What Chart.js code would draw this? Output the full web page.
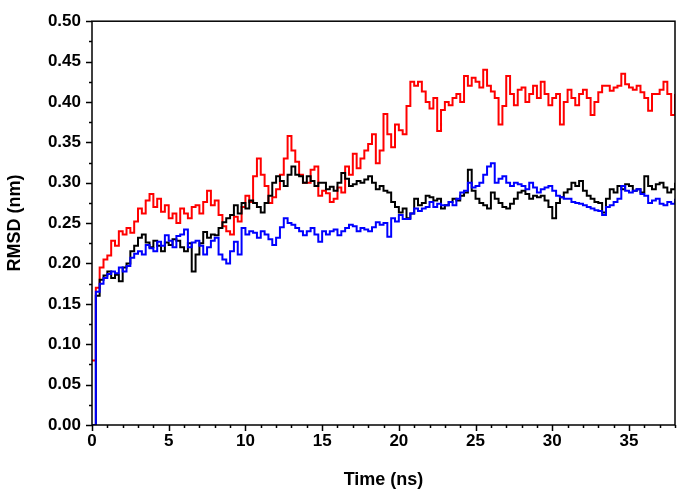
<!DOCTYPE html>
<html>
<head>
<meta charset="utf-8">
<script src="https://cdn.jsdelivr.net/npm/chart.js@4.4.1/dist/chart.umd.min.js"></script>
<style>
  body { margin: 0; background: #fff; }
</style>
</head>
<body>
<canvas id="rmsdChart" width="683" height="495"></canvas>
<script>
const timeStep = 0.25;

const redRmsd = [
  0.08, 0.17, 0.195, 0.205,
  0.21, 0.228, 0.222, 0.24,
  0.236, 0.244, 0.238, 0.252,
  0.268, 0.262, 0.278, 0.286,
  0.27, 0.28, 0.264, 0.272,
  0.256, 0.262, 0.25, 0.268,
  0.262, 0.256, 0.27, 0.272,
  0.262, 0.276, 0.29, 0.272,
  0.278, 0.26, 0.246, 0.24,
  0.236, 0.258, 0.252, 0.27,
  0.284, 0.276, 0.308, 0.33,
  0.31, 0.296, 0.275, 0.282,
  0.292, 0.31, 0.33, 0.358,
  0.34, 0.326, 0.31, 0.3,
  0.3, 0.316, 0.32, 0.284,
  0.29, 0.287, 0.276, 0.28,
  0.294, 0.288, 0.32, 0.31,
  0.336, 0.318, 0.33, 0.34,
  0.348, 0.36, 0.324, 0.34,
  0.385, 0.36, 0.344, 0.372,
  0.365, 0.36, 0.395, 0.425,
  0.42, 0.425, 0.413, 0.4,
  0.392, 0.405, 0.364, 0.39,
  0.4, 0.396, 0.405, 0.41,
  0.4, 0.432, 0.42, 0.43,
  0.425, 0.418, 0.44, 0.42,
  0.413, 0.405, 0.372, 0.395,
  0.432, 0.41, 0.396, 0.415,
  0.418, 0.4, 0.41, 0.42,
  0.405, 0.425, 0.41, 0.396,
  0.405, 0.41, 0.372, 0.4,
  0.415, 0.405, 0.396, 0.41,
  0.415, 0.405, 0.384, 0.4,
  0.412, 0.42, 0.42, 0.414,
  0.418, 0.42, 0.435, 0.422,
  0.418, 0.415, 0.42, 0.412,
  0.405, 0.389, 0.41, 0.41,
  0.415, 0.425, 0.41, 0.384,
  0.41
];

const blackRmsd = [
  0.0, 0.16, 0.18, 0.185,
  0.19, 0.182, 0.186, 0.178,
  0.195, 0.2, 0.215, 0.222,
  0.232, 0.236, 0.226, 0.22,
  0.228, 0.222, 0.215, 0.226,
  0.223, 0.23, 0.228, 0.22,
  0.215, 0.225, 0.19, 0.211,
  0.225, 0.239, 0.232, 0.236,
  0.235, 0.244, 0.251, 0.256,
  0.26, 0.272, 0.262, 0.275,
  0.268, 0.278, 0.275, 0.27,
  0.263, 0.275, 0.284, 0.3,
  0.308, 0.302, 0.296, 0.31,
  0.32, 0.31, 0.308, 0.3,
  0.308, 0.302, 0.296, 0.3,
  0.3, 0.292, 0.295, 0.29,
  0.3, 0.312, 0.305, 0.296,
  0.298, 0.302, 0.3, 0.304,
  0.308, 0.3, 0.292, 0.296,
  0.29, 0.288, 0.276, 0.27,
  0.263, 0.268, 0.256, 0.262,
  0.28, 0.272, 0.275, 0.284,
  0.282, 0.278, 0.28, 0.268,
  0.272, 0.276, 0.28, 0.278,
  0.284, 0.288, 0.316, 0.29,
  0.28, 0.275, 0.272, 0.268,
  0.288, 0.28, 0.275, 0.27,
  0.268, 0.274, 0.28, 0.288,
  0.29, 0.286, 0.28, 0.284,
  0.282, 0.284, 0.278, 0.27,
  0.256, 0.275, 0.282, 0.288,
  0.292, 0.3, 0.296, 0.302,
  0.29, 0.284, 0.28, 0.276,
  0.275, 0.263, 0.28, 0.292,
  0.288, 0.296, 0.292, 0.298,
  0.296, 0.29, 0.292, 0.288,
  0.308, 0.296, 0.292, 0.298,
  0.3, 0.294, 0.288, 0.292,
  0.3
];

const blueRmsd = [
  0.0, 0.165, 0.175, 0.182,
  0.187, 0.19, 0.188, 0.195,
  0.19, 0.197, 0.207, 0.212,
  0.215, 0.211, 0.223, 0.219,
  0.215, 0.227, 0.222, 0.235,
  0.228, 0.22, 0.234, 0.236,
  0.242, 0.22, 0.226, 0.228,
  0.222, 0.211, 0.22, 0.228,
  0.232, 0.211, 0.205, 0.2,
  0.215, 0.227, 0.211, 0.244,
  0.236, 0.24, 0.238, 0.232,
  0.24, 0.236, 0.23, 0.223,
  0.232, 0.245, 0.256, 0.25,
  0.248, 0.244, 0.24, 0.235,
  0.24, 0.244, 0.236, 0.227,
  0.24, 0.236, 0.24, 0.242,
  0.235, 0.24, 0.244, 0.248,
  0.246, 0.24, 0.244, 0.242,
  0.24, 0.245, 0.251, 0.248,
  0.25, 0.233, 0.256, 0.252,
  0.26, 0.255, 0.255, 0.262,
  0.268, 0.265, 0.268, 0.27,
  0.276, 0.27, 0.274, 0.272,
  0.272, 0.276, 0.272, 0.28,
  0.288, 0.29, 0.3, 0.294,
  0.296, 0.3, 0.31, 0.32,
  0.324, 0.3, 0.305, 0.308,
  0.3, 0.296, 0.3, 0.298,
  0.296, 0.292, 0.3, 0.294,
  0.288, 0.292, 0.294, 0.296,
  0.29, 0.284, 0.282, 0.28,
  0.28, 0.276, 0.275, 0.274,
  0.272, 0.27, 0.268, 0.266,
  0.265, 0.26, 0.27, 0.272,
  0.276, 0.28, 0.296, 0.29,
  0.288, 0.29, 0.292, 0.286,
  0.284, 0.275, 0.278, 0.28,
  0.274, 0.272, 0.276, 0.274,
  0.28
];

const xMax = 38;
const yMax = 0.5;

const FONT = "'Liberation Sans', Arial, sans-serif";

function toPoints(values) {
  return values.map((v, i) => ({ x: i * timeStep, y: v }));
}

// Draws the box frame and the outward major/minor ticks
const frameTicks = {
  id: "frameTicks",
  afterDatasetsDraw(chart) {
    const { ctx, chartArea: a, scales } = chart;
    ctx.save();
    ctx.strokeStyle = "#000";
    ctx.lineWidth = 1.5;
    ctx.strokeRect(a.left, a.top, a.right - a.left, a.bottom - a.top);
    ctx.beginPath();
    for (let t = 0; t <= xMax; t++) {
      const px = Math.round(scales.x.getPixelForValue(t)) + 0.5;
      ctx.moveTo(px, a.bottom);
      ctx.lineTo(px, a.bottom + (t % 5 === 0 ? 6 : 3));
    }
    for (let k = 0; k <= 20; k++) {
      const py = Math.round(scales.y.getPixelForValue(k * 0.025)) + 0.5;
      ctx.moveTo(a.left, py);
      ctx.lineTo(a.left - (k % 2 === 0 ? 6 : 3), py);
    }
    ctx.stroke();
    ctx.restore();
  },
};

const ctx = document.getElementById("rmsdChart").getContext("2d");

new Chart(ctx, {
  type: "line",
  data: {
    datasets: [
      { label: "blue", data: toPoints(blueRmsd), borderColor: "#0000ff" },
      { label: "black", data: toPoints(blackRmsd), borderColor: "#000000" },
      { label: "red", data: toPoints(redRmsd), borderColor: "#ff0000" },
    ],
  },
  options: {
    responsive: false,
    animation: false,
    parsing: false,
    layout: { padding: { left: 0, top: 11, right: 8, bottom: 0 } },
    elements: {
      point: { radius: 0 },
      line: { borderWidth: 2, stepped: true, tension: 0 },
    },
    plugins: {
      legend: { display: false },
      tooltip: { enabled: false },
    },
    scales: {
      x: {
        type: "linear",
        min: 0,
        max: xMax,
        afterFit: (s) => { s.height = 70; },
        // only label multiples of 5, no label at the 38 end
        afterBuildTicks: (s) => { s.ticks = s.ticks.filter((t) => t.value % 5 === 0); },
        grid: { display: false, drawTicks: false },
        border: { display: false },
        ticks: {
          stepSize: 5,
          padding: 6,
          maxRotation: 0,
          color: "#000",
          font: { family: FONT, size: 17, weight: "bold" },
        },
        title: {
          display: true,
          text: "Time (ns)",
          color: "#000",
          font: { family: FONT, size: 18, weight: "bold" },
        },
      },
      y: {
        min: 0,
        max: yMax,
        afterFit: (s) => { s.width = 92; },
        grid: { display: false, drawTicks: false },
        border: { display: false },
        ticks: {
          stepSize: 0.05,
          padding: 11,
          color: "#000",
          font: { family: FONT, size: 17, weight: "bold" },
          callback: (v) => v.toFixed(2),
        },
        title: {
          display: true,
          text: "RMSD (nm)",
          color: "#000",
          font: { family: FONT, size: 18, weight: "bold" },
        },
      },
    },
  },
  plugins: [frameTicks],
});
</script>
</body>
</html>
